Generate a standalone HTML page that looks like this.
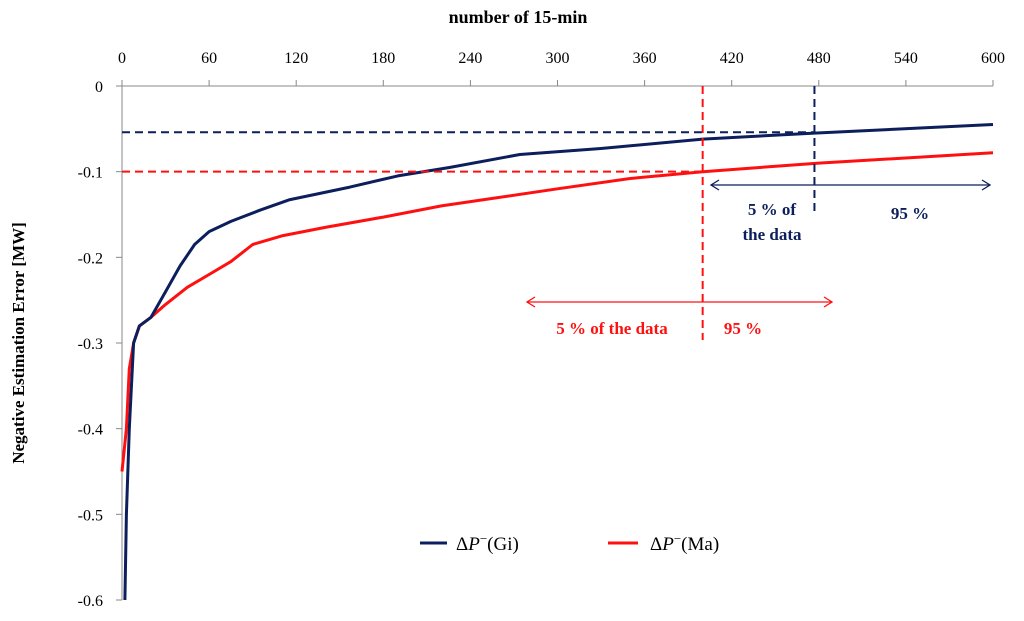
<!DOCTYPE html>
<html><head><meta charset="utf-8"><style>
body{margin:0;background:#fff}
svg{display:block;font-family:"Liberation Serif",serif}
</style></head><body>
<svg id="chart" width="1024" height="621">
<text x="518" y="23" text-anchor="middle" font-size="18" font-weight="bold">number of 15-min</text>
<text transform="translate(24,343) rotate(-90)" text-anchor="middle" font-size="17" font-weight="bold">Negative Estimation Error [MW]</text>
<g id="axes"></g>
<g id="series"></g>
<g id="annot"></g>
<g>
<line x1="420" y1="543" x2="447" y2="543" stroke="#0c1f5c" stroke-width="3"/>
<text x="456" y="550" font-size="19">Δ<tspan font-style="italic">P</tspan><tspan font-size="13" dy="-7">−</tspan><tspan dy="7">(Gi)</tspan></text>
<line x1="608" y1="543" x2="638" y2="543" stroke="#ff1010" stroke-width="3"/>
<text x="650" y="550" font-size="19">Δ<tspan font-style="italic">P</tspan><tspan font-size="13" dy="-7">−</tspan><tspan dy="7">(Ma)</tspan></text>
</g>
</svg>
<script>
const xTicks=[0,60,120,180,240,300,360,420,480,540,600];
const yTicks=[0,-0.1,-0.2,-0.3,-0.4,-0.5,-0.6];
const giX=[2,3,5,8,12,20,30,40,50,60,75,95,115,157,190,226,274,330,400,477,600];
const giY=[-0.6,-0.5,-0.4,-0.3,-0.28,-0.27,-0.24,-0.21,-0.185,-0.17,-0.158,-0.145,-0.133,-0.118,-0.105,-0.095,-0.08,-0.073,-0.062,-0.055,-0.045];
const maX=[0,3,5,8,12,20,30,45,60,75,90,110,140,180,220,260,300,350,400,480,600];
const maY=[-0.45,-0.4,-0.33,-0.3,-0.28,-0.27,-0.255,-0.235,-0.22,-0.205,-0.185,-0.175,-0.165,-0.153,-0.14,-0.13,-0.12,-0.108,-0.1,-0.09,-0.078];
const gi95X=477, gi95Y=-0.054, ma95X=400, ma95Y=-0.1;
const X=v=>122+v*(993-122)/600;
const Y=v=>86-v*(600-86)/0.6;
const NS="http://www.w3.org/2000/svg";
function mk(p,t,a){const e=document.createElementNS(NS,t);for(const k in a)e.setAttribute(k,a[k]);p.appendChild(e);return e;}
const ax=document.getElementById('axes');
let l=mk(ax,'line',{x1:X(0),y1:Y(0),x2:X(600),y2:Y(0),stroke:'#888','stroke-width':1});


l=mk(ax,'line',{x1:X(0),y1:Y(0),x2:X(0),y2:Y(-0.6),stroke:'#888','stroke-width':1});


xTicks.forEach(v=>{
 const t=mk(ax,'line',{x1:X(v),y1:Y(0),x2:X(v),y2:Y(0)-6,stroke:'#888'});
 
 
 const s=mk(ax,'text',{x:X(v),y:63,'text-anchor':'middle','font-size':16});
 s.textContent=v;
 
 
});
yTicks.forEach(v=>{
 const t=mk(ax,'line',{x1:X(0)-6,y1:Y(v),x2:X(0),y2:Y(v),stroke:'#888'});
 
 
 const s=mk(ax,'text',{x:103,y:Y(v)+6,'text-anchor':'end','font-size':16});
 s.textContent=v;
 
 
});
const an=document.getElementById('annot');
function dash(x1,y1,x2,y2,c,n){const e=mk(an,'line',{x1,y1,x2,y2,stroke:c,'stroke-width':2,'stroke-dasharray':'8,5'});}
dash(X(0),Y(gi95Y),X(gi95X),Y(gi95Y),'#0c1f5c','gi-95-hline');
dash(X(gi95X),Y(0),X(gi95X),216,'#0c1f5c','gi-95-vline');
dash(X(0),Y(ma95Y),X(ma95X),Y(ma95Y),'#ff1010','ma-95-hline');
dash(X(ma95X),Y(0),X(ma95X),340,'#ff1010','ma-95-vline');
function arrow(x1,x2,y,c,n){
 const g=mk(an,'g',{stroke:c,'stroke-width':1.3,fill:'none'});
 
 
 mk(g,'line',{x1,y1:y,x2,y2:y});
 mk(g,'polyline',{points:`${x1+8},${y-5} ${x1},${y} ${x1+8},${y+5}`});
 mk(g,'polyline',{points:`${x2-8},${y-5} ${x2},${y} ${x2-8},${y+5}`});
}
arrow(711,990,185,'#0c1f5c','gi-arrow');
arrow(527,832,302,'#ff1010','ma-arrow');
function txt(x,y,s,c,n){const e=mk(an,'text',{x,y,'text-anchor':'middle','font-size':17,'font-weight':'bold',fill:c});e.textContent=s;}
txt(772,215,'5 % of','#0c1f5c','gi-5pct-label');
txt(772,240,'the data','#0c1f5c','gi-5pct-label-2');
txt(910,219,'95 %','#0c1f5c','gi-95pct-label');
txt(612,334,'5 % of the data','#ff1010','ma-5pct-label');
txt(743,334,'95 %','#ff1010','ma-95pct-label');
const se=document.getElementById('series');
function line(xs,ys,c,n){
 const d=xs.map((x,i)=>(i?'L':'M')+X(x).toFixed(1)+','+Y(ys[i]).toFixed(1)).join(' ');
 const p=mk(se,'path',{d,stroke:c,'stroke-width':3,fill:'none','stroke-linejoin':'round'});
 
 
}
line(maX,maY,'#ff1010','series-ma');
line(giX,giY,'#0c1f5c','series-gi');
</script>
</body></html>
